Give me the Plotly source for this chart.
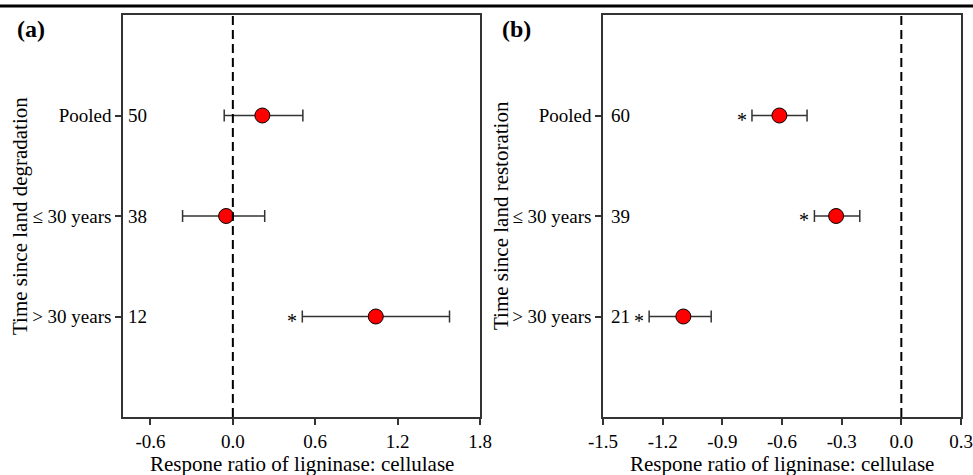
import plotly.graph_objects as go

# ---- data ----
categories = ["Pooled", "≤ 30 years", "> 30 years"]
cat_pos = [1, 2, 3]

a_mean = [0.215, -0.049, 1.041]
a_lower = [-0.063, -0.366, 0.506]
a_upper = [0.51, 0.232, 1.578]
a_n = ["50", "38", "12"]
a_sig = [False, False, True]

b_mean = [-0.613, -0.328, -1.096]
b_lower = [-0.751, -0.437, -1.268]
b_upper = [-0.474, -0.209, -0.956]
b_n = ["60", "39", "21"]
b_sig = [True, True, True]

a_xticks = [-0.6, 0.0, 0.6, 1.2, 1.8]
b_xticks = [-1.5, -1.2, -0.9, -0.6, -0.3, 0.0, 0.3]

W, H = 973, 475
FONT = "Liberation Serif"

def px_x(p):
    return p / W

def px_y(p):
    return 1 - p / H

fig = go.Figure()

def add_panel(mean, lower, upper, xa, ya):
    fig.add_trace(go.Scatter(
        x=mean, y=cat_pos, mode="markers", xaxis=xa, yaxis=ya,
        marker=dict(size=15, color="#ff0000", line=dict(color="black", width=1)),
        error_x=dict(type="data", symmetric=False,
                     array=[u - m for u, m in zip(upper, mean)],
                     arrayminus=[m - l for m, l in zip(mean, lower)],
                     color="#333333", thickness=1.5, width=6),
        showlegend=False, hoverinfo="x+y",
    ))

add_panel(a_mean, a_lower, a_upper, "x", "y")
add_panel(b_mean, b_lower, b_upper, "x2", "y2")

ydom = [px_y(417), px_y(15)]
axis_common = dict(showline=True, mirror=True, linecolor="#333333", linewidth=1.5,
                   ticks="outside", ticklen=6, tickwidth=1.5, tickcolor="#333333",
                   showgrid=False, zeroline=False, automargin=False,
                   tickfont=dict(family=FONT, size=19, color="black"))

fig.update_layout(
    width=W, height=H, margin=dict(l=0, r=0, t=0, b=0, autoexpand=False),
    plot_bgcolor="white", paper_bgcolor="white",
    xaxis=dict(domain=[px_x(123), px_x(480)], range=[-0.8, 1.8], tickvals=a_xticks,
               ticktext=[f"{v:.1f}" for v in a_xticks], anchor="y", **axis_common),
    yaxis=dict(domain=ydom, range=[4, 0], tickvals=cat_pos, ticktext=categories,
               anchor="x", **axis_common),
    xaxis2=dict(domain=[px_x(603), px_x(961)], range=[-1.5, 0.3], tickvals=b_xticks,
                ticktext=[f"{v:.1f}" for v in b_xticks], anchor="y2", **axis_common),
    yaxis2=dict(domain=ydom, range=[4, 0], tickvals=cat_pos, ticktext=categories,
                anchor="x2", **axis_common),
)

# reference lines at zero
for xr, yr in (("x", "y domain"), ("x2", "y2 domain")):
    fig.add_shape(type="line", xref=xr, yref=yr, x0=0, x1=0, y0=0, y1=1,
                  line=dict(color="black", width=2, dash="9px,5px"))

# top rule
fig.add_shape(type="line", xref="paper", yref="paper", x0=0, x1=1,
              y0=px_y(6), y1=px_y(6), line=dict(color="black", width=3))

ann = []
def add_counts_and_stars(ns, sig, lower, xa, shift):
    for n, s, l, p in zip(ns, sig, lower, cat_pos):
        ann.append(dict(text=n, xref=f"{xa} domain", yref=xa.replace("x", "y"), x=0, y=p,
                        xanchor="left", yanchor="middle", xshift=shift, showarrow=False,
                        font=dict(family=FONT, size=19, color="black")))
        if s:
            ann.append(dict(text="*", xref=xa, yref=xa.replace("x", "y"), x=l, y=p,
                            xanchor="center", yanchor="middle", xshift=-10, yshift=-4,
                            showarrow=False, font=dict(family=FONT, size=20, color="black")))

add_counts_and_stars(a_n, a_sig, a_lower, "x", 3)
add_counts_and_stars(b_n, b_sig, b_lower, "x2", 6)

# axis titles
for cx in (301.5, 782):
    ann.append(dict(text="Respone ratio of ligninase: cellulase", xref="paper", yref="paper",
                    x=px_x(cx), y=px_y(464), xanchor="center", yanchor="middle",
                    showarrow=False, font=dict(family=FONT, size=21, color="black")))
for cx, t in ((20, "Time since land degradation"), (501, "Time since land restoration")):
    ann.append(dict(text=t, xref="paper", yref="paper", textangle=-90,
                    x=px_x(cx), y=px_y(216), xanchor="center", yanchor="middle",
                    showarrow=False, font=dict(family=FONT, size=21, color="black")))
# panel labels
for cx, t in ((31, "(a)"), (516, "(b)")):
    ann.append(dict(text=f"<b>{t}</b>", xref="paper", yref="paper",
                    x=px_x(cx), y=px_y(29), xanchor="center", yanchor="middle",
                    showarrow=False, font=dict(family=FONT, size=24, color="black")))

fig.update_layout(annotations=ann)
fig.write_html("out.html", config={"displayModeBar": False},
               post_script="document.body.style.margin='0';document.body.style.overflow='hidden';")
